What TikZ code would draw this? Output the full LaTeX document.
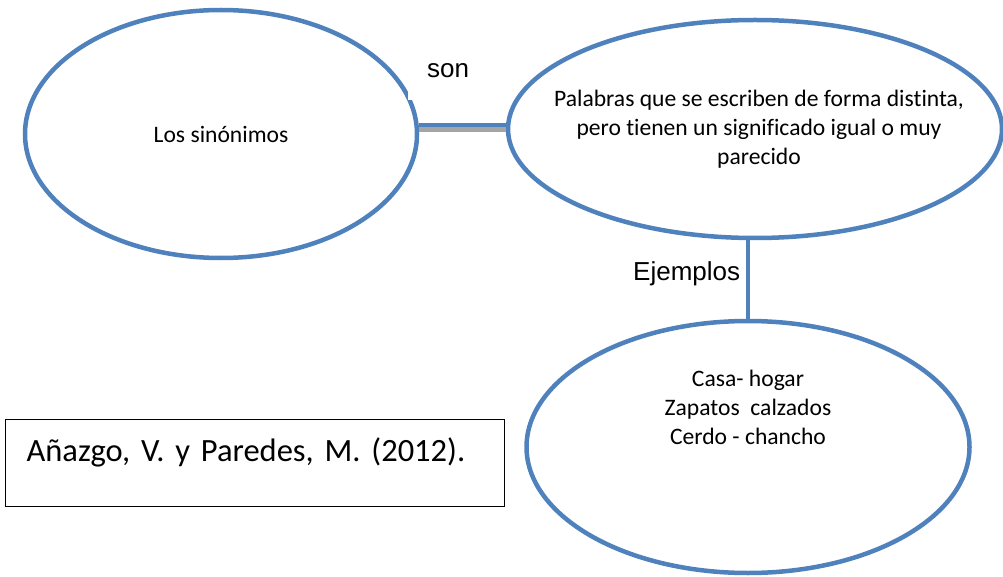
\documentclass[tikz,border=0pt]{standalone}
\usepackage{fontspec}
\setmainfont{Carlito}[Ligatures=NoCommon]
\newfontfamily\arialfont{Liberation Sans}
\usetikzlibrary{shapes.geometric,positioning}
\definecolor{mapblue}{HTML}{4F81BD}
\definecolor{shadowgray}{HTML}{A5A5A5}

\begin{document}
\begin{tikzpicture}[x=1pt,y=-1pt,
  bubble/.style={ellipse,draw=mapblue,line width=4.5pt,inner sep=0pt},
  bubbletext/.style={align=center,font=\fontsize{23.6}{29}\selectfont},
  link/.style={mapblue,line width=4.5pt},
  linklabel/.style={font=\arialfont\fontsize{26}{30}\selectfont,inner sep=0pt}]
\useasboundingbox (0,0) rectangle (1003,577);

% Ellipses
\node[bubble,minimum width=392,minimum height=248] (sin) at (221,134) {};
\node[bubble,minimum width=494,minimum height=218] (def) at (755,129) {};
\node[bubble,minimum width=443,minimum height=252] (ej) at (748,447) {};

% Texts in the ellipses
\node[bubbletext] (sintext) at (sin.center) {Los sinónimos};
\node[bubbletext] (deftext) at ([xshift=4pt]def.center)
  {Palabras que se escriben de forma distinta,\\ pero tienen un significado igual o muy\\ parecido};
\node[bubbletext,anchor=north] (ejtext) at (748,367)
  {Casa- hogar\\ Zapatos~ calzados\\ Cerdo - chancho};

% Connectors
\coordinate (linky) at (0,125);
\draw[shadowgray,line width=4.5pt] ([yshift=-4.5pt]sin.east |- linky) -- ([yshift=-4.5pt]def.west |- linky);
\draw[link] (sin.east |- linky) -- (def.west |- linky);
\draw[link] (ej.north) -- (ej.north |- def.south);

% Labels
\node[linklabel,fill=white,anchor=south west,inner xsep=19pt,text height=30pt,text depth=22pt] (son) at (408,100) {son};
\node[linklabel,anchor=base west] (ejlbl) at (633,280) {Ejemplos};

% Reference box
\node[draw,line width=1.2pt,anchor=north west,inner xsep=21pt,inner ysep=0pt,
  text width=457pt,text height=42pt,text depth=45pt,align=left,
  font=\fontsize{32.5}{36}\selectfont] (ref) at (5,419) {Añazgo, V. y Paredes, M. (2012).};
\end{tikzpicture}
\end{document}
